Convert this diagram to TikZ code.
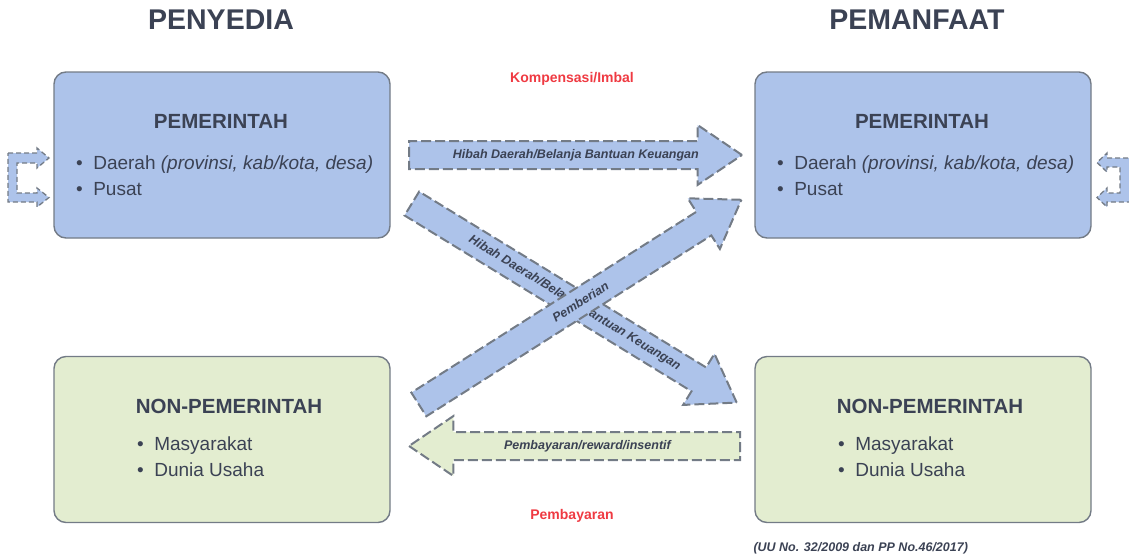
\documentclass[tikz,border=0pt]{standalone}
\usepackage{fontspec}
\setmainfont{Liberation Sans}
\usetikzlibrary{shapes.arrows,calc}
\definecolor{ink}{HTML}{3B4254}
\definecolor{govblue}{HTML}{ADC3EA}
\definecolor{privgreen}{HTML}{E3EDD0}
\definecolor{rim}{HTML}{737B86}
\definecolor{flowred}{HTML}{EF3A42}

\begin{document}
\begin{tikzpicture}[x=1pt,y=-1pt]
  \tikzstyle{party}=[draw=rim, line width=1.4pt, rounded corners=12pt, minimum width=336pt, minimum height=166pt]
  \tikzstyle{gov}=[fill=govblue]
  \tikzstyle{nongov}=[fill=privgreen]
  \tikzstyle{side}=[font=\bfseries\fontsize{28.5}{28}\selectfont, text=ink]
  \tikzstyle{boxtitle}=[font=\bfseries\fontsize{20.5}{20}\selectfont, text=ink]
  \tikzstyle{items}=[font=\fontsize{19}{26}\selectfont, text=ink, align=left, anchor=west, inner sep=0pt]
  \tikzstyle{flow}=[single arrow, draw=rim, dash pattern=on 10pt off 4pt, line width=2pt,
    text height=0pt, text depth=0pt, inner xsep=0pt, inner ysep=13pt,
    single arrow head extend=16pt, single arrow tip angle=68, anchor=tail]
  \tikzstyle{flowtext}=[font=\bfseries\itshape\fontsize{12.5}{12}\selectfont, text=ink]
  \tikzstyle{loopflow}=[fill=govblue, draw=rim, dash pattern=on 5pt off 3pt, line width=1.3pt]
  \tikzstyle{note}=[font=\bfseries\fontsize{14}{14}\selectfont, text=flowred]

  \useasboundingbox (0,0) rectangle (1129,557);

  % column heads
  \node[side] (penyedia)  at (221,20) {PENYEDIA};
  \node[side] (pemanfaat) at (917,20) {PEMANFAAT};

  % the four parties
  \node[party, gov]    (pl) at (222,155)   {};
  \node[party, gov]    (pr) at (923,155)   {};
  \node[party, nongov] (nl) at (222,439.5) {};
  \node[party, nongov] (nr) at (923,439.5) {};

  \node[boxtitle] (plt) at (221,121) {PEMERINTAH};
  \node[items]    (pli) at (76,176)  {\textbullet\hspace{0.55em}Daerah \textit{(provinsi, kab/kota, desa)}\\\textbullet\hspace{0.55em}Pusat};
  \node[boxtitle] (prt) at (922,121) {PEMERINTAH};
  \node[items]    (pri) at (777,176) {\textbullet\hspace{0.55em}Daerah \textit{(provinsi, kab/kota, desa)}\\\textbullet\hspace{0.55em}Pusat};
  \node[boxtitle] (nlt) at (229,406) {NON-PEMERINTAH};
  \node[items]    (nli) at (137,457) {\textbullet\hspace{0.55em}Masyarakat\\\textbullet\hspace{0.55em}Dunia Usaha};
  \node[boxtitle] (nrt) at (930,406) {NON-PEMERINTAH};
  \node[items]    (nri) at (838,457) {\textbullet\hspace{0.55em}Masyarakat\\\textbullet\hspace{0.55em}Dunia Usaha};

  % flows between parties
  \node[flow, fill=govblue, minimum height=333pt] (hibah) at (408,155) {};
  \node[flowtext] (hibaht) at ($(hibah.tail)!0.5!(hibah.tip)$) {Hibah Daerah/Belanja Bantuan Keuangan};

  \node[flow, fill=govblue, minimum height=381pt, rotate=-31.5] (hibahx) at (411,203) {};
  \node[flowtext, rotate=-31.5] (hibahxt) at ($(hibahx.tail)!0.5!(hibahx.tip)$) {Hibah Daerah/Belanja Bantuan Keuangan};

  \node[flow, fill=govblue, minimum height=382pt, rotate=32.4] (beri) at (418,405) {};
  \node[flowtext, rotate=32.4] (berit) at ($(beri.tail)!0.5!(beri.tip)$) {Pemberian};

  \node[flow, fill=privgreen, minimum height=331pt, shape border rotate=180] (bayar) at (741,446) {};
  \node[flowtext] (bayart) at ($(bayar.tail)!0.46!(bayar.tip)$) {Pembayaran/reward/insentif};

  % flows inside one party
  \draw[loopflow] (8,153) -- (37,153) -- (37,148) -- (49,158) -- (37,168) -- (37,163)
    -- (17,163) -- (17,193) -- (37,193) -- (37,188) -- (49,197.5) -- (37,207) -- (37,202)
    -- (8,202) -- cycle;
  \draw[loopflow] (1136,158) -- (1107,158) -- (1107,153) -- (1097,162.5) -- (1107,172) -- (1107,167)
    -- (1120,167) -- (1120,193) -- (1107,193) -- (1107,188) -- (1097,197.5) -- (1107,207) -- (1107,202)
    -- (1136,202) -- cycle;

  \node[note] (imbal)  at (572,79)  {Kompensasi/Imbal};
  \node[note] (bayarn) at (572,516) {Pembayaran};
  \node[font=\bfseries\itshape\fontsize{12.5}{12}\selectfont, text=ink, anchor=west] (uu) at (750,548) {(UU No. 32/2009 dan PP No.46/2017)};
\end{tikzpicture}
\end{document}
